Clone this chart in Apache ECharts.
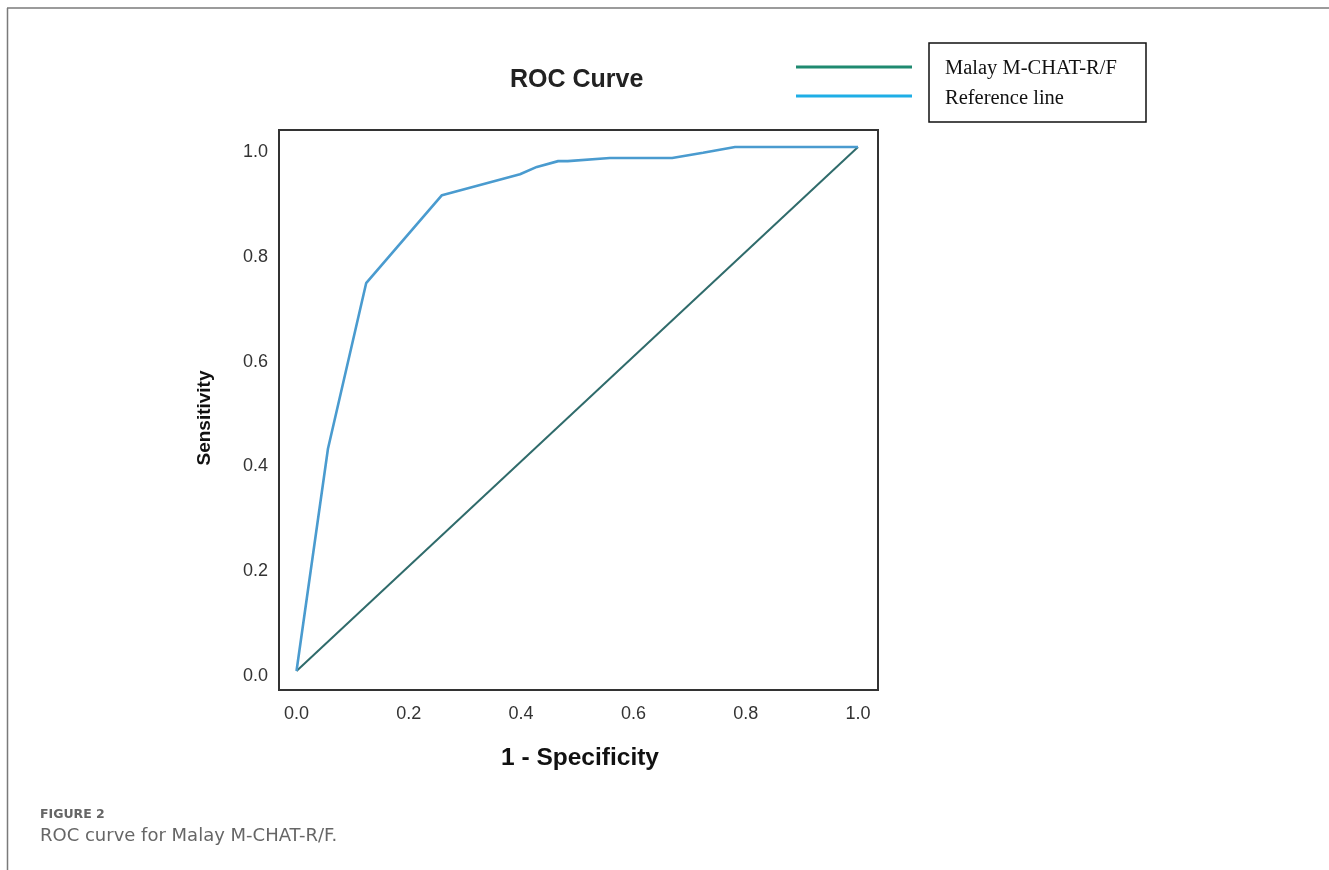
<!DOCTYPE html>
<html>
<head>
<meta charset="utf-8">
<script src="https://cdn.jsdelivr.net/npm/echarts@6/dist/echarts.min.js"></script>
<style>
html,body{margin:0;padding:0;background:#fff;}
#chart{width:1329px;height:870px;}
</style>
</head>
<body>
<div id="chart"></div>
<script>
// ROC curve points (1 - specificity, sensitivity)
const rocFpr = [0, 0.056, 0.124, 0.259, 0.398, 0.428, 0.466, 0.483, 0.558, 0.669, 0.724, 0.781, 1];
const rocTpr = [0, 0.424, 0.740, 0.908, 0.948, 0.962, 0.973, 0.973, 0.979, 0.979, 0.989, 1, 1];
// Diagonal reference line
const refX = [0, 1];
const refY = [0, 1];
// Tick labels
const tickValues = [0, 0.2, 0.4, 0.6, 0.8, 1.0];
const legendLabels = ['Malay M-CHAT-R/F', 'Reference line'];
const titleText = 'ROC Curve';
const xTitle = '1 - Specificity';
const yTitle = 'Sensitivity';
const captionLabel = 'FIGURE 2';
const captionText = 'ROC curve for Malay M-CHAT-R/F.';

const chart = echarts.init(document.getElementById('chart'), null, {renderer: 'canvas'});
const rocData = rocFpr.map((x, i) => [x, rocTpr[i]]);
const refData = refX.map((x, i) => [x, refY[i]]);

const option = {
  backgroundColor: '#ffffff',
  animation: false,
  title: {
    text: titleText,
    left: 505, top: 63,
    textStyle: {fontFamily: 'Liberation Sans, Arial, sans-serif', fontWeight: 'bold', fontSize: 25, color: '#222'}
  },
  grid: {
    left: 279, top: 130, width: 599, height: 560,
    show: true, borderColor: '#333', borderWidth: 2, backgroundColor: 'transparent'
  },
  xAxis: {
    type: 'value', min: -0.0312, max: 1.0356,
    axisLine: {show: false}, axisTick: {show: false}, splitLine: {show: false},
    axisLabel: {
      customValues: tickValues, margin: 15,
      formatter: v => v.toFixed(1),
      fontFamily: 'Liberation Sans, Arial, sans-serif', fontSize: 18, color: '#333'
    }
  },
  yAxis: {
    type: 'value', min: -0.0363, max: 1.0324,
    axisLine: {show: false}, axisTick: {show: false}, splitLine: {show: false},
    axisLabel: {
      customValues: tickValues, margin: 11,
      formatter: v => v.toFixed(1),
      verticalAlign: 'top', lineHeight: 10,
      fontFamily: 'Liberation Sans, Arial, sans-serif', fontSize: 18, color: '#333'
    }
  },
  series: [
    {
      name: legendLabels[1] + ' diagonal', type: 'line', data: refData, showSymbol: false,
      lineStyle: {color: '#2f6b6b', width: 2}, z: 2
    },
    {
      name: legendLabels[0] + ' curve', type: 'line', data: rocData, showSymbol: false,
      lineStyle: {color: '#4a9bcf', width: 2.6}, z: 3
    }
  ],
  graphic: [
    // page frame
    {type: 'line', shape: {x1: 7, y1: 8, x2: 1329, y2: 8}, style: {stroke: '#7a7a7a', lineWidth: 1.5}},
    {type: 'line', shape: {x1: 7.5, y1: 8, x2: 7.5, y2: 870}, style: {stroke: '#7a7a7a', lineWidth: 1.5}},
    // axis titles
    {type: 'text', x: 205, y: 418, rotation: Math.PI / 2,
      style: {text: yTitle, font: 'bold 19px "Liberation Sans", Arial, sans-serif', fill: '#111', align: 'center', verticalAlign: 'middle'}},
    {type: 'text', x: 580, y: 758,
      style: {text: xTitle, font: 'bold 24.5px "Liberation Sans", Arial, sans-serif', fill: '#111', align: 'center', verticalAlign: 'middle'}},
    // legend
    {type: 'line', shape: {x1: 796, y1: 67, x2: 912, y2: 67}, style: {stroke: '#1f8a70', lineWidth: 3}},
    {type: 'line', shape: {x1: 796, y1: 96, x2: 912, y2: 96}, style: {stroke: '#1eaee6', lineWidth: 3}},
    {type: 'rect', shape: {x: 929, y: 43, width: 217, height: 79}, style: {fill: '#fff', stroke: '#111', lineWidth: 1.5}},
    {type: 'text', left: 945, top: 58, style: {text: legendLabels[0], font: '20.5px "Liberation Serif", "Times New Roman", serif', fill: '#111'}},
    {type: 'text', left: 945, top: 88, style: {text: legendLabels[1], font: '20.5px "Liberation Serif", "Times New Roman", serif', fill: '#111'}},
    // caption
    {type: 'text', left: 40, top: 808, style: {text: captionLabel, font: 'bold 12.5px "DejaVu Sans", "Open Sans", sans-serif', fill: '#666'}},
    {type: 'text', left: 40, top: 827, style: {text: captionText, font: '18px "DejaVu Sans", "Open Sans", sans-serif', fill: '#666'}}
  ]
};
chart.setOption(option);
</script>
</body>
</html>
